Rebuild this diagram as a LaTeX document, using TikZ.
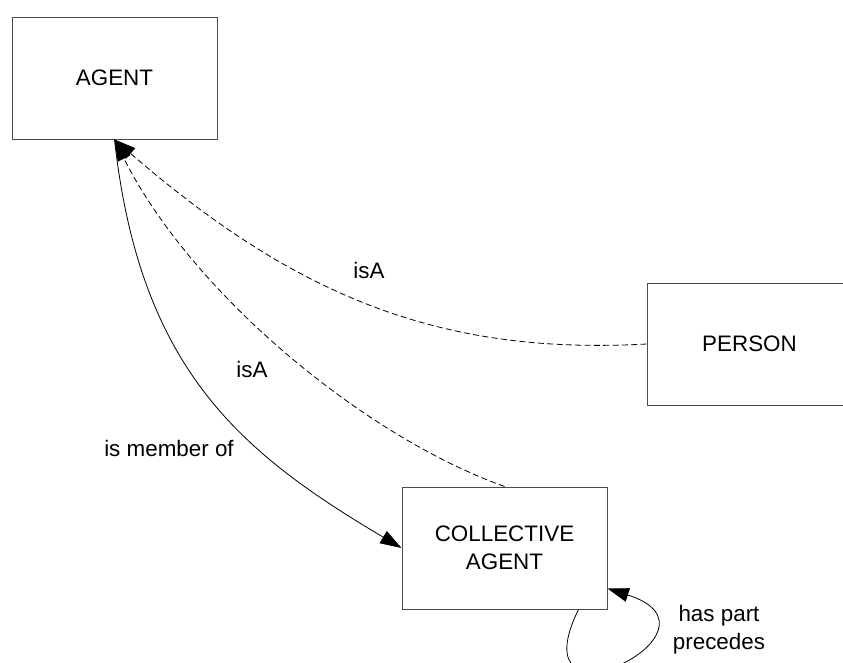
\documentclass[tikz,border=0pt]{standalone}
\usepackage{fontspec}
\setmainfont{Liberation Sans}
\usetikzlibrary{arrows.meta}

\begin{document}
\begin{tikzpicture}[x=0.75pt,y=-0.75pt,font=\fontsize{16.8}{21}\selectfont]
    \tikzstyle{concept}=[draw=black!70,line width=0.75pt,minimum width=153.75pt,minimum height=91.5pt,align=center,inner sep=0pt]
    \tikzstyle{rel}=[line width=0.6pt,-{Triangle[length=16pt,width=10.5pt]}]
    \tikzstyle{isa}=[rel,dash pattern=on 4.5pt off 2.5pt]
    \tikzstyle{lbl}=[align=center,inner sep=0pt]
    \useasboundingbox (0,0) rectangle (843,662);
    \clip (0,0) rectangle (843,662);
    \node[concept] (N_agent) at (114.5,78) {AGENT};
    \node[concept] (N_person) at (749.5,344) {PERSON};
    \node[concept] (N_coll) at (504.5,548) {COLLECTIVE\\AGENT};
    \node[lbl] (L_isa1) at (369,270) {isA};
    \node[lbl] (L_isa2) at (252,369) {isA};
    \node[lbl] (L_member) at (169,448) {is member of};
    \node[lbl] (L_part) at (719,630) {has part\\precedes};
    \draw[isa] (N_person.west) .. controls +(-200,11) and +(185.5,161) .. (N_agent.south);
    \draw[isa] (N_coll.north) .. controls +(-144.5,-52) and +(75.5,151) .. (N_agent.south);
    \draw[rel] (N_agent.south) .. controls +(25.5,231) and +(-160,-95) .. (N_coll.west);
    \draw[rel] ([xshift=-21.75pt]N_coll.south east) .. controls +(-64,130) and +(132,42) .. ([yshift=15.75pt]N_coll.south east);
\end{tikzpicture}
\end{document}
